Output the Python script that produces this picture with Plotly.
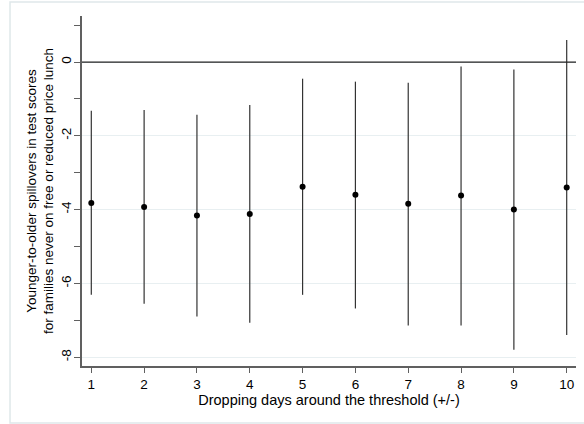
import plotly.graph_objects as go

days = [1, 2, 3, 4, 5, 6, 7, 8, 9, 10]
estimates = [-3.82, -3.93, -4.16, -4.12, -3.38, -3.60, -3.84, -3.62, -4.00, -3.40]
ci_upper = [-1.32, -1.30, -1.43, -1.16, -0.45, -0.53, -0.56, -0.12, -0.20, 0.60]
ci_lower = [-6.31, -6.55, -6.90, -7.07, -6.31, -6.68, -7.14, -7.14, -7.80, -7.40]
y_major = [-8, -6, -4, -2, 0]
y_labels = ["-8", "-6", "-4", "-2", "0"]

err_plus = [u - e for u, e in zip(ci_upper, estimates)]
err_minus = [e - l for e, l in zip(estimates, ci_lower)]

font_family = "Liberation Sans, Arial, sans-serif"

fig = go.Figure()
fig.add_trace(go.Scatter(
    x=days, y=estimates, mode="markers",
    marker=dict(color="black", size=6),
    error_y=dict(type="data", symmetric=False, array=err_plus, arrayminus=err_minus,
                 width=0, thickness=1.2, color="#333333"),
    showlegend=False,
))

fig.add_shape(type="line", xref="paper", x0=0, x1=1, yref="y", y0=0, y1=0,
              line=dict(color="#222222", width=1.2))
# outer graph region border
fig.add_shape(type="rect", xref="paper", yref="paper",
              x0=-0.1457, x1=1.05, y0=-0.163, y1=1.040,
              line=dict(color="#dfe8ea", width=1.5))

fig.update_layout(
    width=584, height=424,
    margin=dict(l=82, r=8, t=16, b=58),
    paper_bgcolor="white", plot_bgcolor="white",
    font=dict(family=font_family, size=13.5, color="black"),
    xaxis=dict(
        range=[0.824, 10.176], tickvals=days, ticktext=[str(d) for d in days],
        showgrid=False, zeroline=False, showline=True, linecolor="#606060", linewidth=1.5,
        ticks="outside", ticklen=5, tickcolor="#606060", tickwidth=1.2,
        title=dict(text="Dropping days around the threshold (+/-)", standoff=0,
                   font=dict(size=14.5)),
        tickfont=dict(size=13.5),
    ),
    yaxis=dict(
        range=[-8.24, 1.25], tickvals=y_major, ticktext=y_labels, tickangle=-90,
        showgrid=True, gridcolor="#e8eff1", gridwidth=1, zeroline=False,
        showline=True, linecolor="#606060", linewidth=1.5,
        ticks="outside", ticklen=6, tickcolor="#606060", tickwidth=1.2,
        ticklabelstandoff=-2,
        minor=dict(dtick=1, tick0=0, ticks="outside", ticklen=6, tickcolor="#606060",
                   tickwidth=1.2, showgrid=False),
        title=dict(text="Younger-to-older spillovers in test scores<br>for families never on free or reduced price lunch",
                   standoff=2, font=dict(size=13.5)),
        tickfont=dict(size=13.5),
    ),
)

fig.write_html("out.html")
